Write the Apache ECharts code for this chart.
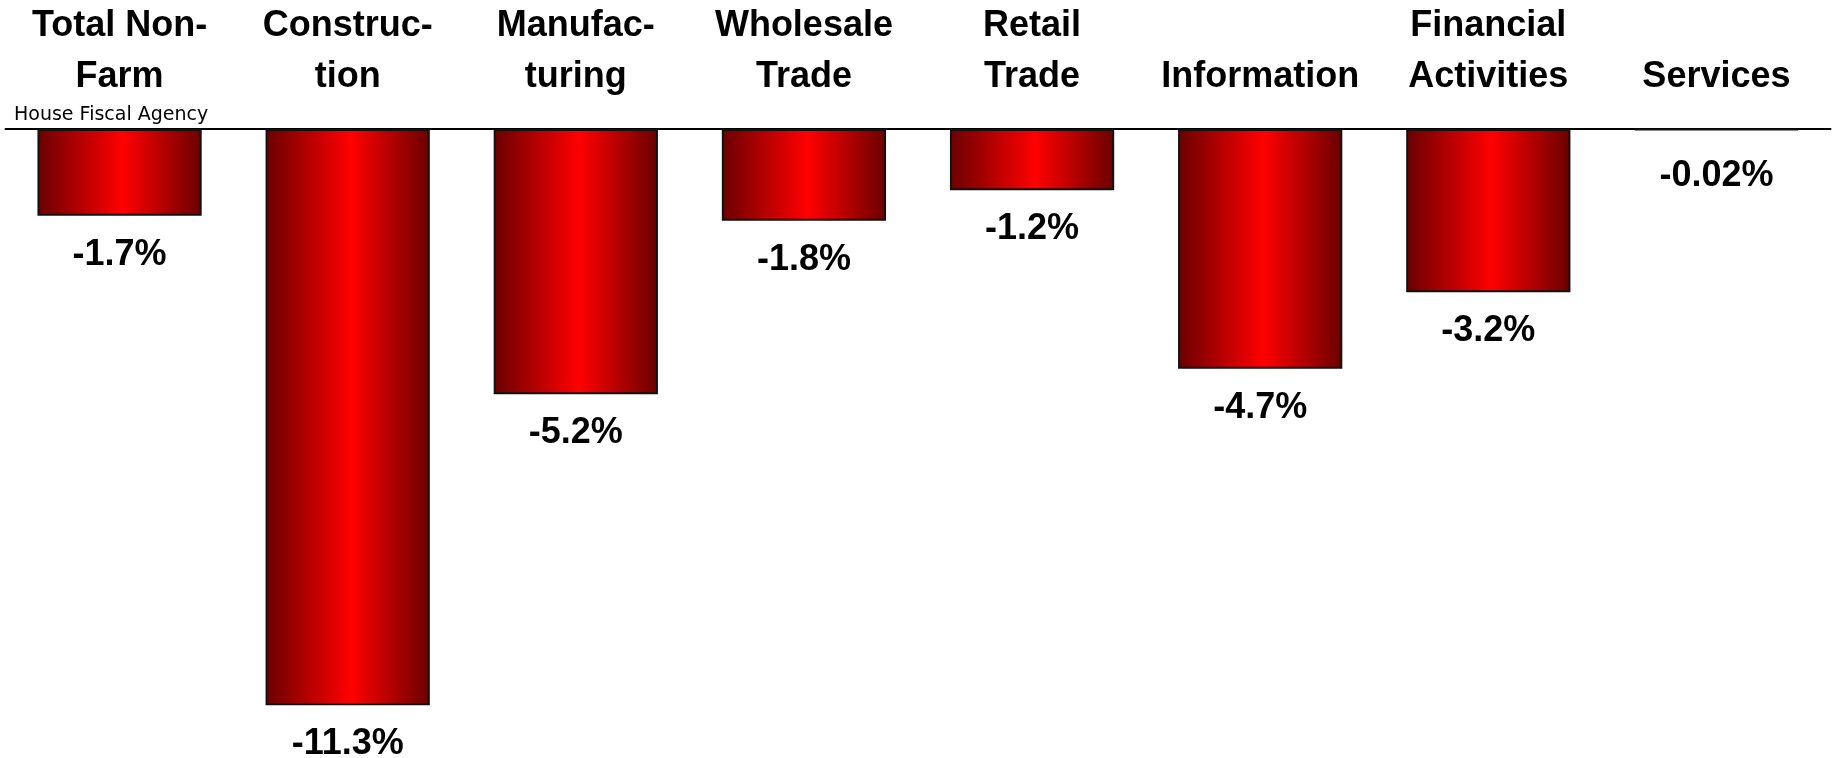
<!DOCTYPE html>
<html>
<head>
<meta charset="utf-8">
<script src="https://cdn.jsdelivr.net/npm/echarts@6/dist/echarts.min.js"></script>
<style>
html,body{margin:0;padding:0;background:#fff;}
#chart{width:1834px;height:758px;}
</style>
</head>
<body>
<div id="chart"></div>
<script>
const categories = ["Total Non-\nFarm", "Construc-\ntion", "Manufac-\nturing", "Wholesale\nTrade", "Retail\nTrade", "Information", "Financial\nActivities", "Services"];
const changes = [-1.7, -11.3, -5.2, -1.8, -1.2, -4.7, -3.2, -0.02];
const sourceText = "House Fiscal Agency";

const chart = echarts.init(document.getElementById('chart'), null, {renderer: 'canvas'});

const barColor = new echarts.graphic.LinearGradient(0, 0, 1, 0, [
  {offset: 0, color: '#6a0000'},
  {offset: 0.52, color: '#ff0000'},
  {offset: 1, color: '#6a0000'}
]);

const seriesData = changes.map(v => Math.abs(v) < 0.1
  ? {value: v, label: {distance: 28}}
  : {value: v});

chart.setOption({
  animation: false,
  backgroundColor: '#ffffff',
  title: {
    text: sourceText,
    left: 14,
    top: 106,
    padding: 0,
    textStyle: {fontFamily: 'DejaVu Sans', fontSize: 19, fontWeight: 'normal', color: '#000'}
  },
  grid: {left: 5.5, right: 3.5, top: 129, bottom: 17, containLabel: false},
  xAxis: {
    type: 'category',
    position: 'top',
    data: categories,
    axisLine: {show: true, lineStyle: {color: '#000', width: 2}},
    axisTick: {show: false},
    axisLabel: {
      interval: 0,
      margin: 26,
      fontFamily: '"Liberation Sans", Arial, sans-serif',
      fontWeight: 'bold',
      fontSize: 36,
      lineHeight: 51,
      color: '#000',
      align: 'center'
    }
  },
  yAxis: {
    type: 'value',
    min: -12,
    max: 0,
    show: false,
    splitLine: {show: false}
  },
  series: [{
    type: 'bar',
    data: seriesData,
    barCategoryGap: '28%',
    itemStyle: {color: barColor, borderColor: '#111', borderWidth: 2},
    label: {
      show: true,
      position: 'bottom',
      distance: 21,
      fontFamily: '"Liberation Sans", Arial, sans-serif',
      fontWeight: 'bold',
      fontSize: 36,
      color: '#000',
      formatter: p => p.value + '%'
    }
  }]
});
</script>
</body>
</html>
